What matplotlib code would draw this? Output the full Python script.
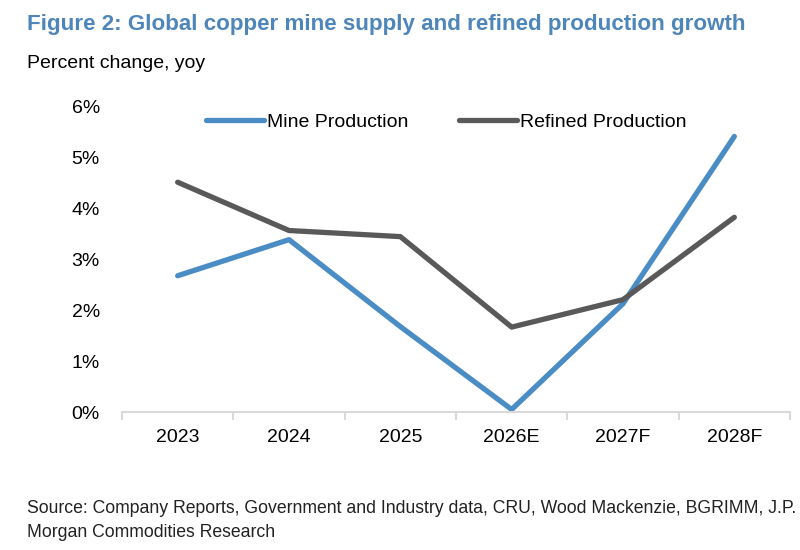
import matplotlib.pyplot as plt
import numpy as np
from matplotlib.ticker import FixedLocator, PercentFormatter

# Chart data (percent change, yoy)
years = ['2023', '2024', '2025', '2026E', '2027F', '2028F']
mine_production = [2.68, 3.39, 1.68, 0.05, 2.13, 5.42]
refined_production = [4.52, 3.57, 3.45, 1.67, 2.21, 3.83]

COLORS = {
    'title_blue': '#4E86B9',
    'mine_blue': '#4A8CC4',
    'refined_gray': '#595959',
    'axis_gray': '#D9D9D9',
}
FONT = ['Liberation Sans Narrow', 'Liberation Sans', 'DejaVu Sans']

plt.rcParams['font.family'] = FONT

fig = plt.figure(figsize=(8, 5.5), dpi=100)
ax = fig.add_axes([0.1525, 0.2509, 0.835, 0.5546])

x = np.arange(len(years))
ax.plot(x, mine_production, color=COLORS['mine_blue'], linewidth=3.8,
        solid_joinstyle='round', solid_capstyle='round', label='Mine Production')
ax.plot(x, refined_production, color=COLORS['refined_gray'], linewidth=3.8,
        solid_joinstyle='round', solid_capstyle='round', label='Refined Production')

ax.set_xlim(-0.5, len(years) - 0.5)
ax.set_ylim(0, 6)
ax.set_yticks(np.arange(0, 7, 1))
ax.yaxis.set_major_formatter(PercentFormatter(decimals=0))
ax.set_xticks(x)
ax.set_xticklabels(years)
ax.xaxis.set_minor_locator(FixedLocator(np.arange(-0.5, len(years), 1)))

for side in ['top', 'right', 'left']:
    ax.spines[side].set_visible(False)
ax.spines['bottom'].set_color(COLORS['axis_gray'])
ax.spines['bottom'].set_linewidth(1.5)

ax.tick_params(axis='x', which='major', length=0, pad=12, labelsize=14)
ax.tick_params(axis='x', which='minor', length=6, width=1.5,
               color=COLORS['axis_gray'], direction='out')
ax.tick_params(axis='y', length=0, pad=16, labelsize=14)

ax.legend(loc='upper left', bbox_to_anchor=(0.0995, 1.037), ncol=2, frameon=False,
          fontsize=14, handlelength=3.0, handletextpad=0.15, columnspacing=2.6)

fig.text(0.034, 0.956, 'Figure 2: Global copper mine supply and refined production growth',
         fontsize=16.1, fontweight='bold', color=COLORS['title_blue'], va='center', ha='left')
fig.text(0.034, 0.885, 'Percent change, yoy', fontsize=14, color='black', va='center', ha='left')
fig.text(0.034, 0.076, 'Source: Company Reports, Government and Industry data, CRU, Wood Mackenzie, BGRIMM, J.P.',
         fontsize=12.7, color='#222222', va='center', ha='left')
fig.text(0.034, 0.031, 'Morgan Commodities Research',
         fontsize=12.7, color='#222222', va='center', ha='left')

plt.savefig('out.png', dpi=100, facecolor='white')
